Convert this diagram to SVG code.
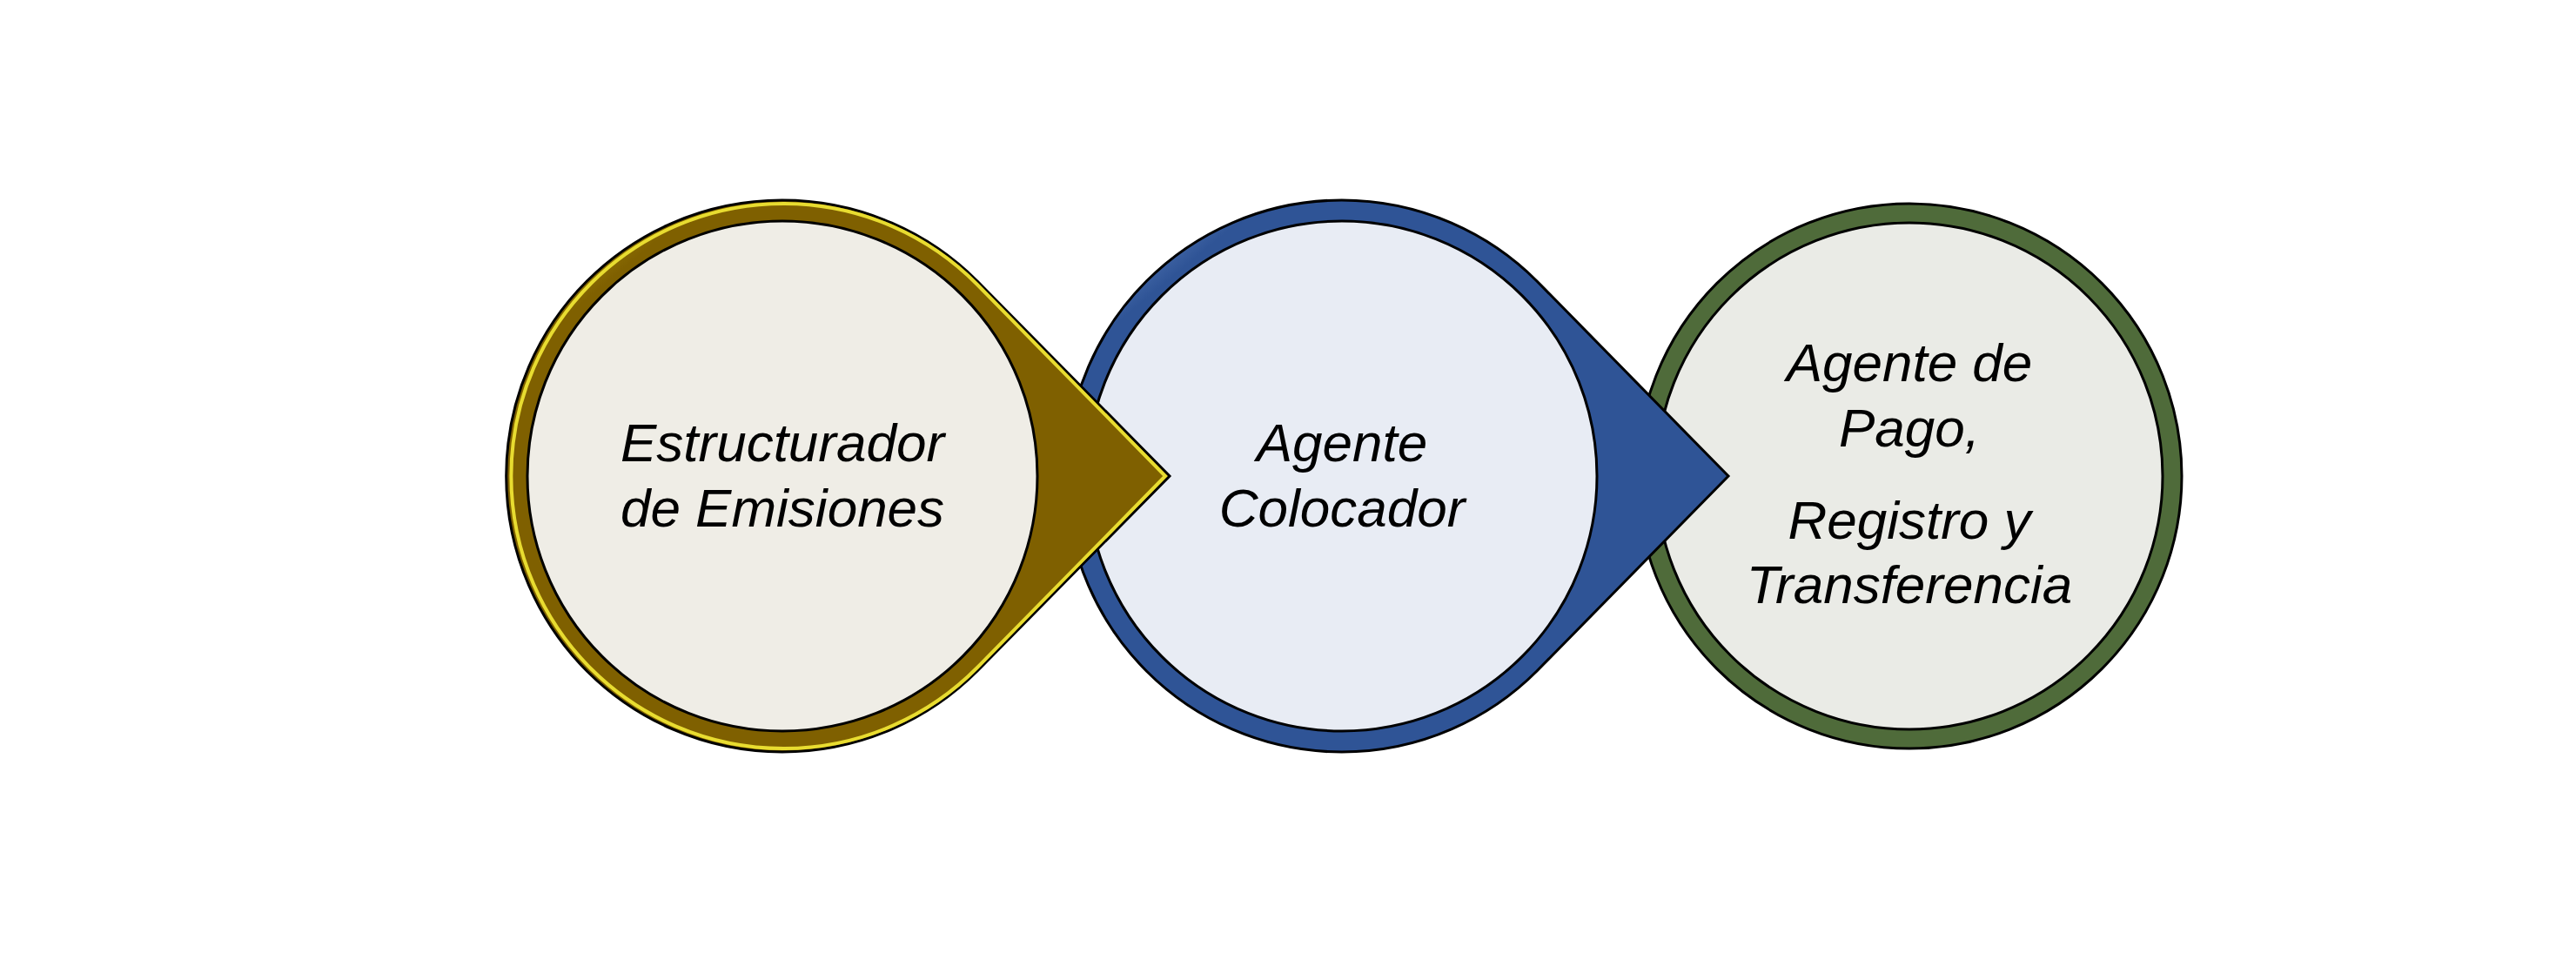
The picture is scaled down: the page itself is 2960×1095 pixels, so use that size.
<svg xmlns="http://www.w3.org/2000/svg" width="2960" height="1095" viewBox="0 0 2960 1095">
<style>
.t{font-family:"Liberation Sans","Open Sans",sans-serif;font-style:italic;font-size:62px;fill:#000;text-anchor:middle}
.ol{stroke:#000;stroke-width:3}
.in{stroke:#000;stroke-width:3}
</style>
<defs>
<linearGradient id="gold" x1="0" y1="0" x2="1" y2="1"><stop offset="0" stop-color="#d8c020"/><stop offset="0.15" stop-color="#7f6000"/><stop offset="0.85" stop-color="#7f6000"/><stop offset="1" stop-color="#e0c84a"/></linearGradient>
<linearGradient id="blue" x1="0" y1="0" x2="1" y2="1"><stop offset="0" stop-color="#8fb0e8"/><stop offset="0.15" stop-color="#2f5496"/><stop offset="0.85" stop-color="#2f5496"/><stop offset="1" stop-color="#9dbcf0"/></linearGradient>
<linearGradient id="green" x1="0" y1="0" x2="1" y2="1"><stop offset="0" stop-color="#b8c8a8"/><stop offset="0.15" stop-color="#4f6b3a"/><stop offset="0.85" stop-color="#4f6b3a"/><stop offset="1" stop-color="#a8c098"/></linearGradient>
</defs>
<rect width="2960" height="1095" fill="#fff"/>
<g id="node3">
<circle cx="2194" cy="547" r="313" fill="url(#green)" class="ol"/>
<circle cx="2194" cy="547" r="291" fill="#eaebe6" class="in"/>
<text class="t" x="2194" y="438">Agente de</text>
<text class="t" x="2194" y="513">Pago,</text>
<text class="t" x="2194" y="619">Registro y</text>
<text class="t" x="2194" y="693">Transferencia</text>
</g>
<g id="node2">
<path d="M1766,323 L1986,547 L1766,771 A317,317 0 1 1 1766,323 Z" fill="url(#blue)" class="ol"/>
<circle cx="1542" cy="547" r="293" fill="#e8ecf4" class="in"/>
<text class="t" x="1542" y="530">Agente</text>
<text class="t" x="1542" y="605">Colocador</text>
</g>
<g id="node1">
<path d="M1123,323 L1344,547 L1123,771 A317,317 0 1 1 1123,323 Z" fill="url(#gold)" stroke="#000" stroke-width="3"/>
<path d="M1123,327 L1339,547 L1123,767 A313,313 0 1 1 1123,327 Z" fill="none" stroke="#e8dc30" stroke-width="4"/>
<circle cx="899" cy="547" r="293" fill="#efede6" class="in"/>
<text class="t" x="899" y="530">Estructurador</text>
<text class="t" x="899" y="605">de Emisiones</text>
</g>
<g id="connectors"></g>
</svg>
